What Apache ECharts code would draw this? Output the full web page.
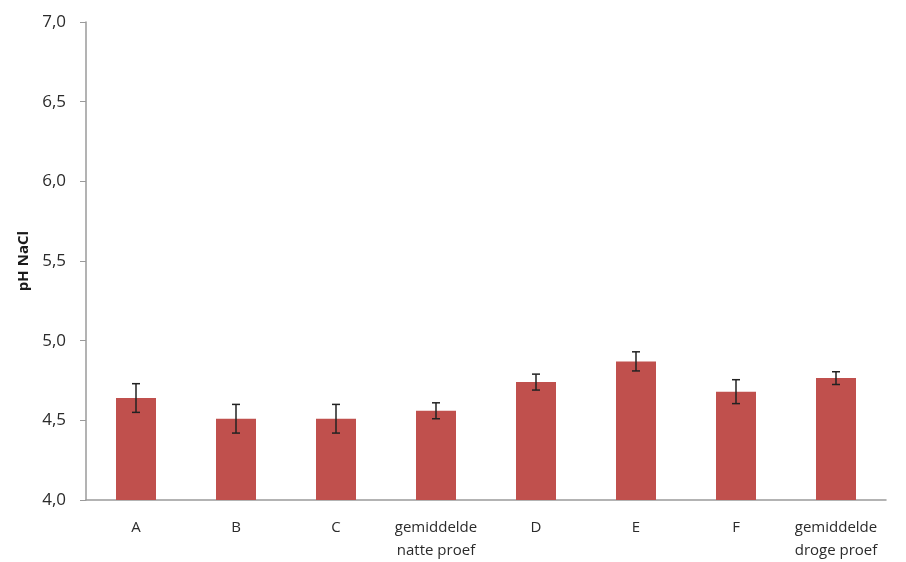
<!DOCTYPE html>
<html>
<head>
<meta charset="utf-8">
<script src="https://cdn.jsdelivr.net/npm/echarts@6/dist/echarts.min.js"></script>
<style>html,body{margin:0;padding:0;background:#fff}#c{width:906px;height:562px}</style>
</head>
<body>
<div id="c"></div>
<script>
var categories = ["A", "B", "C", "gemiddelde\nnatte proef", "D", "E", "F", "gemiddelde\ndroge proef"];
var phValues = [4.64, 4.51, 4.51, 4.56, 4.74, 4.87, 4.68, 4.765];
var errValues = [0.09, 0.09, 0.09, 0.05, 0.05, 0.06, 0.075, 0.04];
var yTicks = ["4,0", "4,5", "5,0", "5,5", "6,0", "6,5", "7,0"];

var errData = phValues.map(function (v, i) { return [i, v - errValues[i], v + errValues[i]]; });

var chart = echarts.init(document.getElementById('c'));
chart.setOption({
  animation: false,
  grid: { left: 86, right: 20, top: 22, bottom: 61 },
  xAxis: {
    type: 'category',
    data: categories,
    axisLine: { lineStyle: { color: '#9a9a9a', width: 1.5 } },
    axisTick: { show: false },
    axisLabel: { interval: 0, color: '#2b2b2b', fontFamily: 'Open Sans', fontSize: 15, lineHeight: 23, margin: 16 }
  },
  yAxis: {
    type: 'value',
    min: 4.0, max: 7.0, interval: 0.5,
    name: 'pH NaCl',
    nameLocation: 'middle',
    nameGap: 54,
    nameRotate: 90,
    nameTextStyle: { color: '#1a1a1a', fontFamily: 'Open Sans', fontSize: 15, fontWeight: 'bold' },
    axisLine: { show: true, lineStyle: { color: '#9a9a9a', width: 1.5 } },
    axisTick: { show: true, length: 6, lineStyle: { color: '#9a9a9a' } },
    splitLine: { show: false },
    axisLabel: {
      color: '#2b2b2b', fontFamily: 'Open Sans', fontSize: 17, margin: 20,
      formatter: function (v) { return yTicks[Math.round((v - 4) / 0.5)]; }
    }
  },
  series: [
    {
      type: 'bar',
      data: phValues,
      barWidth: 40,
      itemStyle: { color: '#C0504D' }
    },
    {
      type: 'custom',
      data: errData,
      z: 10,
      renderItem: function (params, api) {
        var x = api.value(0);
        var lo = api.coord([x, api.value(1)]);
        var hi = api.coord([x, api.value(2)]);
        var hw = 4;
        var st = { stroke: '#222', lineWidth: 1.5 };
        return {
          type: 'group',
          children: [
            { type: 'line', shape: { x1: hi[0], y1: hi[1], x2: lo[0], y2: lo[1] }, style: st },
            { type: 'line', shape: { x1: hi[0] - hw, y1: hi[1], x2: hi[0] + hw, y2: hi[1] }, style: st },
            { type: 'line', shape: { x1: lo[0] - hw, y1: lo[1], x2: lo[0] + hw, y2: lo[1] }, style: st }
          ]
        };
      }
    }
  ]
});
</script>
</body>
</html>
